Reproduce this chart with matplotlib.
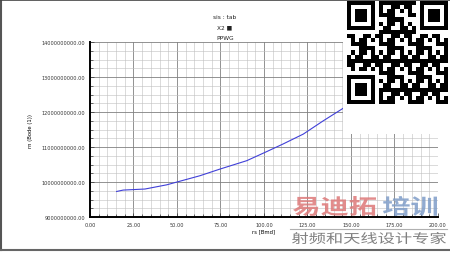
import matplotlib
matplotlib.use("Agg")
import matplotlib.pyplot as plt
import numpy as np
from matplotlib.ticker import MultipleLocator, FormatStrFormatter
from matplotlib.textpath import TextPath
from matplotlib.font_manager import FontProperties
from matplotlib.patches import PathPatch
from matplotlib.transforms import Affine2D

plt.rcParams['font.family'] = ['DejaVu Sans', 'Noto Sans CJK SC']

# curve (x in axis units, y in plain units)
freq = [15.3, 19.1, 31.6, 44.1, 50.7, 63.2, 74.7, 90.1, 101.6, 111.1, 122.6, 134.1, 145.6, 160.0]
vals = [9.73e9, 9.77e9, 9.80e9, 9.92e9, 10.01e9, 10.18e9, 10.37e9, 10.61e9,
        10.87e9, 11.09e9, 11.37e9, 11.75e9, 12.11e9, 12.60e9]

title_lines = ["sis : tab", "X2 \u25a0", "PPWG"]
xlab = "rs [Bmd]"
ylab = "rn (Bode (1))"
mark_red = "易迪拓"
mark_blue = "培训"
mark_small = "射频和天线设计专家"

W, H = 450.0, 255.0


def stretched_text(fig, s, x0, x1, ytop, ybot, color, weight='bold', alpha=1.0):
    # draw text squeezed into a pixel box (picture coords, top-left origin)
    fp = FontProperties(family='Noto Sans CJK SC', weight=weight)
    tp = TextPath((0, 0), s, size=1, prop=fp)
    ext = tp.get_extents()
    sx = (x1 - x0) / W / ext.width
    sy = (ybot - ytop) / H / ext.height
    tr = Affine2D().translate(-ext.x0, -ext.y0).scale(sx, sy).translate(x0 / W, 1 - ybot / H)
    fig.add_artist(PathPatch(tp, transform=tr + fig.transFigure, fc=color, ec='none', alpha=alpha))


fig = plt.figure(figsize=(4.5, 2.55), dpi=100)
ax = fig.add_axes([0.2, 0.145, 0.7733, 0.6863])

ax.plot(freq, vals, color='#4040d8', lw=0.8)
ax.set_xlim(0, 200)
ax.set_ylim(9e9, 14e9)

ax.xaxis.set_major_locator(MultipleLocator(25))
ax.xaxis.set_minor_locator(MultipleLocator(5))
ax.yaxis.set_major_locator(MultipleLocator(1e9))
ax.yaxis.set_minor_locator(MultipleLocator(2.5e8))
ax.xaxis.set_major_formatter(FormatStrFormatter('%.2f'))
ax.yaxis.set_major_formatter(FormatStrFormatter('%.2f'))
ax.grid(which='major', color='#808080', lw=0.6)
ax.grid(which='minor', color='#c0c0c0', lw=0.4)
ax.tick_params(which='both', direction='in', labelsize=3.6, colors='#333333', length=3, width=0.5)
ax.tick_params(which='minor', length=2)

for s in ['top', 'right']:
    ax.spines[s].set_visible(False)
for s in ['left', 'bottom']:
    ax.spines[s].set_linewidth(1.4)

ax.set_xlabel(xlab, fontsize=3.8, labelpad=1)
ax.set_ylabel(ylab, fontsize=3.8, labelpad=6)

for i, t in enumerate(title_lines):
    fig.text(0.5, 0.93 - i * 0.04, t, ha='center', va='center', fontsize=4.2, color='#222222')

# QR code box
qr = fig.add_axes([0.762, 0.47, 0.238, 0.53])
qr.set_xlim(0, 25)
qr.set_ylim(0, 25)
qr.set_facecolor('white')
qr.set_xticks([])
qr.set_yticks([])
for s in qr.spines.values():
    s.set_visible(False)
mods = np.zeros((25, 25), dtype=bool)
for i in range(25):
    for j in range(25):
        mods[i, j] = ((i * i * 3 + j * 7 + i * j * 5) % 7) < 4
for (r0, c0) in [(0, 0), (0, 18), (18, 0)]:
    mods[max(r0 - 1, 0):r0 + 8, max(c0 - 1, 0):c0 + 8] = False
    mods[r0:r0 + 7, c0] = True
    mods[r0:r0 + 7, c0 + 6] = True
    mods[r0, c0:c0 + 7] = True
    mods[r0 + 6, c0:c0 + 7] = True
    mods[r0 + 2:r0 + 5, c0 + 2:c0 + 5] = True
qr.imshow(~mods, cmap='gray', extent=[1.0, 24.5, 5.5, 24.5], interpolation='nearest', aspect='auto')

# watermark (wide, squashed glyphs as in the screenshot)
stretched_text(fig, mark_red, 293, 376, 197, 217, '#dd7878', alpha=0.85)
stretched_text(fig, mark_blue, 383, 437, 197, 217, '#7f9dc8', alpha=0.85)
stretched_text(fig, mark_small, 292, 446, 233, 245, '#808080', weight='normal')
fig.add_artist(plt.Line2D([290 / W, 447 / W], [1 - 230 / H, 1 - 230 / H], color='#b0b0b0', lw=0.8))

# frame of the screenshot
fig.add_artist(plt.Line2D([0.003, 0.003], [0.016, 1], color='#555555', lw=1.5))
fig.add_artist(plt.Line2D([0, 1], [0.998, 0.998], color='#444444', lw=1.2))
fig.add_artist(plt.Line2D([0, 1], [0.016, 0.016], color='#666666', lw=1.5))

fig.savefig('out.png', dpi=100)
